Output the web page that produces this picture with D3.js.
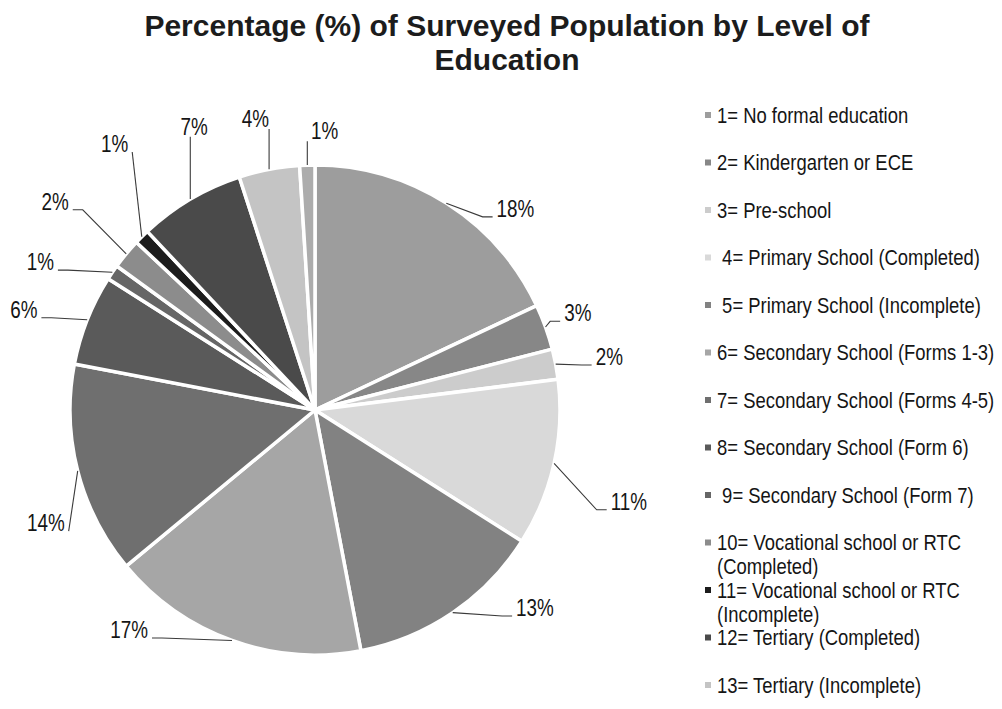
<!DOCTYPE html>
<html>
<head>
<meta charset="utf-8">
<script src="https://cdn.jsdelivr.net/npm/d3@7"></script>
<style>
  html, body { margin: 0; padding: 0; background: #fff; }
  svg { display: block; }
</style>
</head>
<body>
<svg id="chart" width="1002" height="709"></svg>
<script>
// ---- data ----
const titleLines = ["Percentage (%) of Surveyed Population by Level of", "Education"];

// slice values in percent, clockwise from 12 o'clock
const values = [18, 3, 2, 11, 13, 17, 14, 6, 1, 2, 1, 7, 4, 1];
const valueLabels = ["18%", "3%", "2%", "11%", "13%", "17%", "14%", "6%", "1%", "2%", "1%", "7%", "4%", "1%"];

// legend entries (wrapped lines)
const legendEntries = [
  ["1= No formal education"],
  ["2= Kindergarten or ECE"],
  ["3= Pre-school"],
  [" 4= Primary School (Completed)"],
  [" 5= Primary School (Incomplete)"],
  ["6= Secondary School (Forms 1-3)"],
  ["7= Secondary School (Forms 4-5)"],
  ["8= Secondary School (Form 6)"],
  [" 9= Secondary School (Form 7)"],
  ["10= Vocational school or RTC", "(Completed)"],
  ["11= Vocational school or RTC", "(Incomplete)"],
  ["12= Tertiary (Completed)"],
  ["13= Tertiary (Incomplete)"]
];

// grey fills for each slice
const sliceColors = ["#9d9d9d", "#878787", "#cccccc", "#d9d9d9", "#828282", "#a6a6a6", "#6f6f6f",
                     "#5a5a5a", "#666666", "#8c8c8c", "#1c1c1c", "#4a4a4a", "#c4c4c4", "#acacac"];

// data-label placement: polar angle (degrees clockwise from top) and distance from centre
const labelAngle = [44.9, 69.8, 79.8, 106.3, 132, 220.2, 247.2, 289, 298.3, 308.7, 323, 336.9, 348.4, 2];
const labelDist  = [284, 280, 299, 327, 296, 288, 292, 308, 312, 333, 333, 308, 297, 279];

// ---- layout ----
const cx = 315, cy = 410, R = 245;
const svg = d3.select("#chart");

function hasFont(name) {
  const t = svg.append("text")
    .style("font-size", "40px")
    .style("font-family", `'${name}', monospace`)
    .text("abcdefghij 0123456789 ABC");
  const w1 = t.node().getComputedTextLength();
  t.style("font-family", "monospace");
  const w2 = t.node().getComputedTextLength();
  t.remove();
  return Math.abs(w1 - w2) > 0.5;
}
const narrowOK = hasFont("Liberation Sans Narrow");
const narrowFamily = narrowOK ? "'Liberation Sans Narrow', 'Arial Narrow', sans-serif"
                              : "'Liberation Sans', Arial, sans-serif";
const narrowScale = narrowOK ? 1 : 0.82;

// narrow text helper: returns the text node inside a positioned group
function narrowText(parent, x, y, str, size, anchor) {
  const g = parent.append("g").attr("transform", `translate(${x},${y}) scale(${narrowScale},1)`);
  return g.append("text")
    .attr("x", 0).attr("y", 0)
    .attr("text-anchor", anchor || "start")
    .style("font-family", narrowFamily)
    .style("font-size", size + "px")
    .style("white-space", "pre")
    .attr("fill", "#151515")
    .text(str);
}

// ---- title ----
svg.append("g").selectAll("text").data(titleLines).join("text")
  .attr("x", 507)
  .attr("y", (d, i) => 36 + i * 34)
  .attr("text-anchor", "middle")
  .style("font-family", "'Liberation Sans', Arial, sans-serif")
  .style("font-weight", "bold")
  .style("font-size", "30px")
  .attr("fill", "#1c1c1c")
  .text(d => d);

// ---- pie ----
const pie = d3.pie().value(d => d).sort(null);
const arcs = pie(values);
const arc = d3.arc().innerRadius(0).outerRadius(R);

const gPie = svg.append("g").attr("transform", `translate(${cx},${cy})`);
gPie.selectAll("path").data(arcs).join("path")
  .attr("d", arc)
  .attr("fill", (d, i) => sliceColors[i])
  .attr("stroke", "#fff")
  .attr("stroke-width", 3.5)
  .attr("stroke-linejoin", "round");

// ---- data labels with leader lines ----
const gLab = svg.append("g");
const line = d3.line();
arcs.forEach((d, i) => {
  const a = labelAngle[i] * Math.PI / 180;
  const lx = cx + labelDist[i] * Math.sin(a);
  const ly = cy - labelDist[i] * Math.cos(a);
  const t = narrowText(gLab, lx, ly, valueLabels[i], 23, "middle").attr("dy", "0.35em");
  const halfW = t.node().getComputedTextLength() * narrowScale / 2;

  const m = (d.startAngle + d.endAngle) / 2;
  const ax = cx + R * Math.sin(m);
  const ay = cy - R * Math.cos(m);
  const sy = ly + 8;
  let pts;
  if (ax > lx + halfW + 4) {
    const sx = lx + halfW + 4;
    pts = [[sx, sy]];
    if (ax - sx > 14) pts.push([sx + 10, sy]);
    pts.push([ax, ay]);
  } else if (ax < lx - halfW - 4) {
    const sx = lx - halfW - 4;
    pts = [[sx, sy]];
    if (sx - ax > 14) pts.push([sx - 10, sy]);
    pts.push([ax, ay]);
  } else {
    pts = [[ax, ly + 10], [ax, ay]];
  }
  gLab.append("path")
    .attr("d", line(pts))
    .attr("fill", "none")
    .attr("stroke", "#3a3a3a")
    .attr("stroke-width", 1.1);
});

// ---- legend ----
const gLeg = svg.append("g");
legendEntries.forEach((lines, i) => {
  const y = 115 + i * 47.5;
  gLeg.append("rect")
    .attr("x", 705).attr("y", y - 3)
    .attr("width", 6).attr("height", 6)
    .attr("fill", sliceColors[i]);
  lines.forEach((s, j) => {
    narrowText(gLeg, 717, y + j * 24, s, 22.5, "start").attr("dy", "0.35em");
  });
});
</script>
</body>
</html>
